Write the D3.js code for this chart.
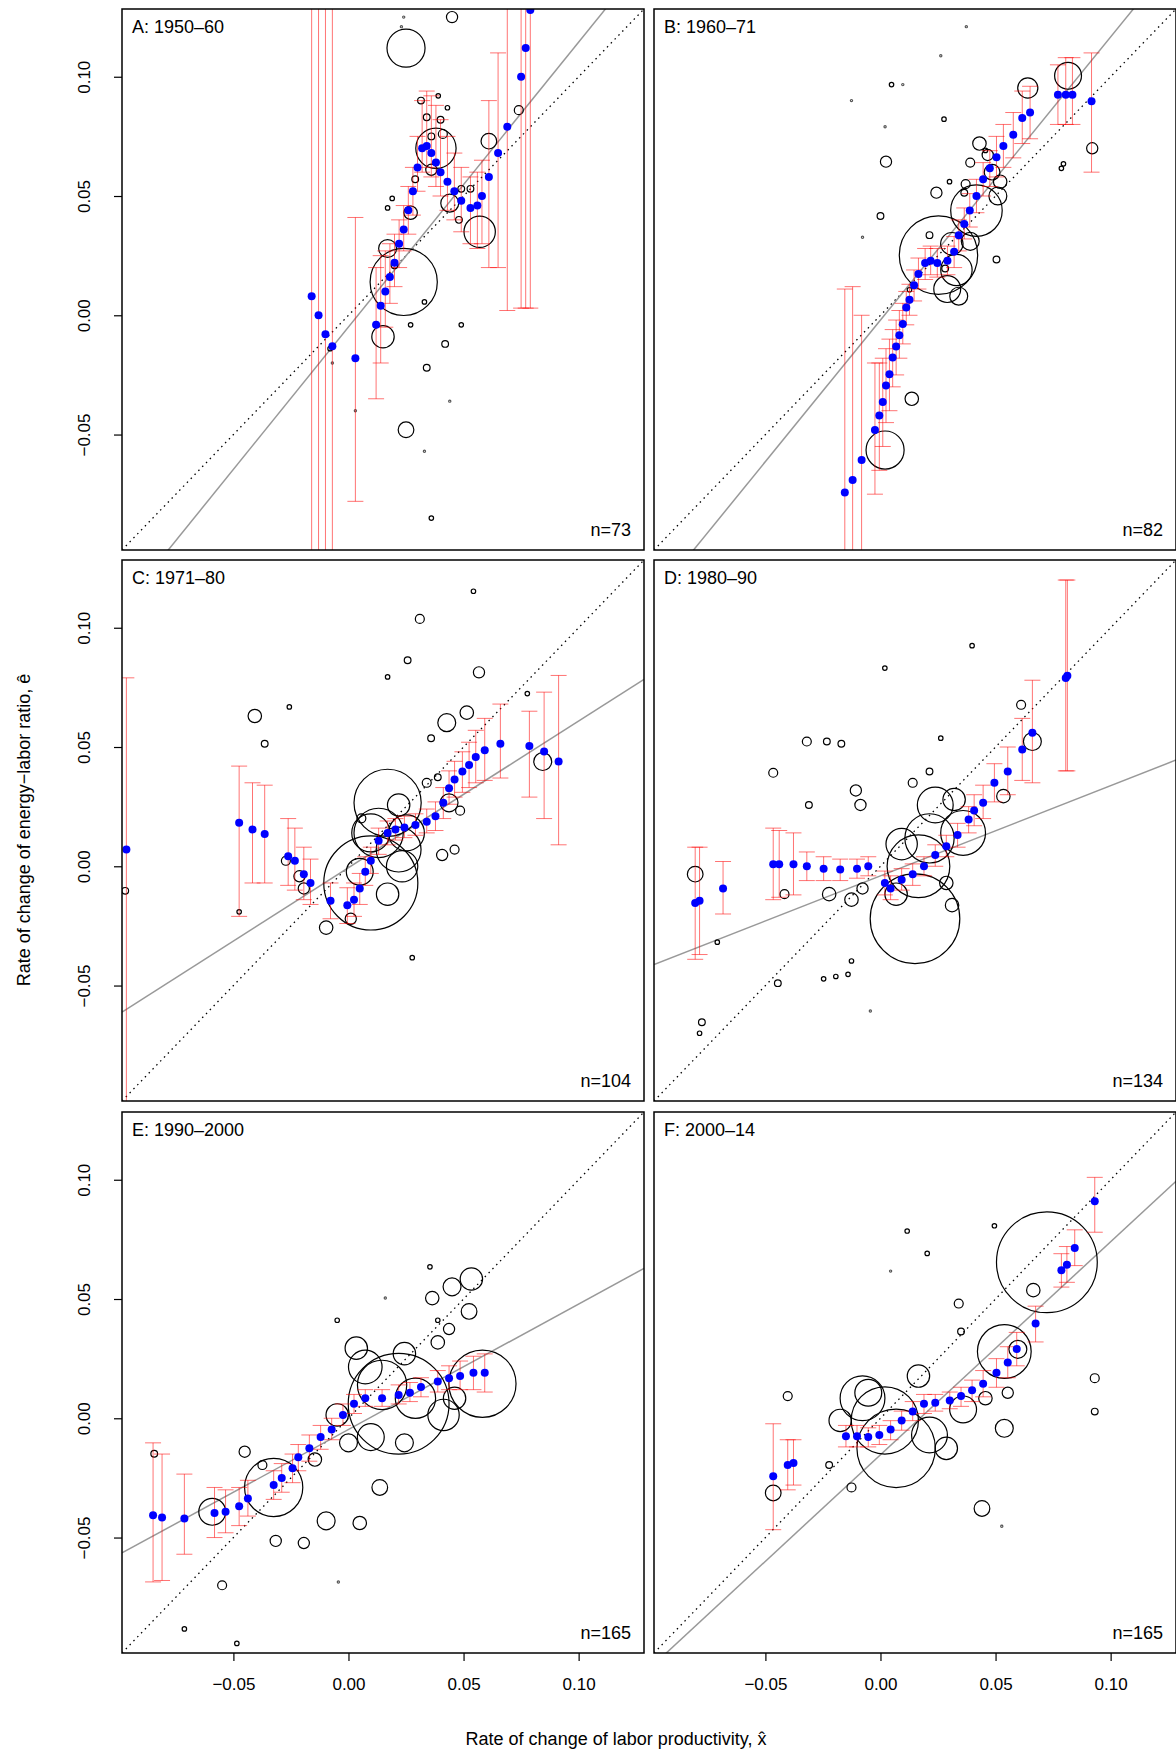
<!DOCTYPE html>
<html><head><meta charset="utf-8">
<script src="https://cdn.jsdelivr.net/npm/d3@7"></script>
<style>body{margin:0;background:#fff}svg{display:block;font-family:"Liberation Sans",Arial,sans-serif}</style>
</head><body><svg id="c" width="1176" height="1758"></svg>
<script>
// Panel meta
const labels = ["A: 1950\u201360","B: 1960\u201371","C: 1971\u201380","D: 1980\u201390","E: 1990\u20132000","F: 2000\u201314"];
const nObs = [73,82,104,134,165,165];
// grey fitted line: [slope, intercept]
const fitLines = [[1.194,-0.0049],[1.187,-0.002],[0.615,-0.0006],[0.378,-0.004],[0.526,-0.0047],[0.893,-0.0153]];
const xTicks = [-0.05,0,0.05,0.10];
const yTicks = [-0.05,0,0.05,0.10];

// blue kernel fit points: [x, y, lo, hi]
const blueA = [[-0.016,0.008,-0.2,0.2],[-0.013,0.000,-0.2,0.2],[-0.010,-0.008,-0.2,0.2],[-0.007,-0.013,-0.2,0.2],[0.003,-0.018,-0.078,0.041],[0.012,-0.004,-0.035,0.020],[0.014,0.004,-0.02,0.025],[0.016,0.010,-0.005,0.027],[0.018,0.016,0.005,0.030],[0.020,0.022,0.012,0.034],[0.022,0.030,0.02,0.04],[0.024,0.036,0.027,0.046],[0.026,0.044,0.034,0.054],[0.028,0.052,0.042,0.062],[0.030,0.062,0.052,0.075],[0.032,0.070,0.060,0.090],[0.034,0.071,0.062,0.094],[0.036,0.068,0.058,0.092],[0.038,0.064,0.054,0.088],[0.040,0.060,0.050,0.082],[0.043,0.056,0.044,0.075],[0.046,0.052,0.040,0.068],[0.049,0.048,0.035,0.062],[0.053,0.045,0.030,0.058],[0.056,0.046,0.028,0.060],[0.058,0.050,0.03,0.065],[0.061,0.058,0.02,0.09],[0.065,0.068,0.02,0.11],[0.069,0.079,0.002,0.2],[0.075,0.100,0.003,0.2],[0.077,0.112,0.003,0.2],[0.079,0.128,0.003,0.2]];
const blueB = [[-0.0155,-0.0743,-0.15,0.011],[-0.0121,-0.0691,-0.15,0.012],[-0.0082,-0.0607,-0.15,0.0],[-0.0024,-0.0481,-0.075,-0.02],[-0.0005,-0.042,-0.065,-0.02],[0.001,-0.0364,-0.055,-0.018],[0.0024,-0.0294,-0.045,-0.014],[0.0039,-0.0247,-0.04,-0.01],[0.0053,-0.0177,-0.03,-0.006],[0.0068,-0.0131,-0.025,-0.002],[0.0082,-0.0084,-0.018,0.002],[0.0097,-0.0037,-0.012,0.005],[0.0112,0.0033,-0.004,0.01],[0.0126,0.0065,0,0.013],[0.0146,0.0126,0.006,0.019],[0.0165,0.0173,0.011,0.024],[0.0194,0.0219,0.015,0.028],[0.0218,0.0229,0.017,0.029],[0.0247,0.0219,0.016,0.028],[0.0291,0.0229,0.017,0.029],[0.032,0.0266,0.02,0.033],[0.034,0.0336,0.027,0.04],[0.0364,0.0383,0.032,0.045],[0.0388,0.0439,0.037,0.051],[0.0417,0.05,0.043,0.057],[0.0446,0.057,0.05,0.064],[0.0475,0.0616,0.054,0.069],[0.0504,0.0663,0.058,0.075],[0.0534,0.071,0.062,0.08],[0.0577,0.0757,0.066,0.085],[0.0616,0.0827,0.072,0.094],[0.065,0.085,0.074,0.096],[0.0771,0.0925,0.08,0.105],[0.0805,0.0925,0.08,0.108],[0.0834,0.0925,0.08,0.108],[0.0917,0.0897,0.06,0.11]];
const blueC = [[-0.0965,0.007,-0.2,0.079],[-0.0475,0.0182,-0.021,0.042],[-0.0417,0.0154,-0.007,0.035],[-0.0364,0.0135,-0.007,0.034],[-0.0262,0.0042,-0.008,0.02],[-0.0233,0.0023,-0.01,0.016],[-0.0194,-0.0033,-0.014,0.008],[-0.0165,-0.007,-0.016,0.003],[-0.0078,-0.0145,-0.022,-0.007],[-0.0005,-0.0163,-0.024,-0.009],[0.0024,-0.014,-0.021,-0.007],[0.0049,-0.0093,-0.016,-0.003],[0.0073,-0.0023,-0.008,0.004],[0.0097,0.0023,-0.003,0.008],[0.0131,0.0107,0.005,0.016],[0.017,0.014,0.009,0.019],[0.0204,0.0154,0.011,0.02],[0.0243,0.0163,0.012,0.021],[0.0291,0.0173,0.013,0.022],[0.034,0.0187,0.014,0.024],[0.0378,0.021,0.015,0.027],[0.0412,0.0266,0.02,0.033],[0.0437,0.0327,0.026,0.04],[0.0461,0.0364,0.029,0.044],[0.0495,0.0397,0.031,0.048],[0.0524,0.0425,0.033,0.052],[0.0553,0.0458,0.035,0.057],[0.0592,0.0486,0.036,0.062],[0.066,0.0514,0.037,0.068],[0.0786,0.0504,0.029,0.065],[0.085,0.0481,0.02,0.073],[0.0913,0.0439,0.009,0.08]];
const blueD = [[-0.0805,-0.0154,-0.039,0.008],[-0.0786,-0.0145,-0.037,0.008],[-0.0684,-0.0093,-0.02,0.002],[-0.0466,0.0009,-0.014,0.016],[-0.044,0.0009,-0.013,0.015],[-0.0378,0.0009,-0.012,0.014],[-0.032,0,-0.006,0.006],[-0.0247,-0.001,-0.006,0.004],[-0.0175,-0.0014,-0.006,0.003],[-0.0102,-0.001,-0.005,0.003],[-0.0053,0,-0.004,0.004],[0.0019,-0.007,-0.012,-0.002],[0.0044,-0.0093,-0.014,-0.004],[0.0092,-0.0056,-0.01,-0.001],[0.014,-0.0033,-0.008,0.001],[0.0189,0,-0.004,0.004],[0.0238,0.0047,0,0.009],[0.0286,0.0084,0.004,0.013],[0.0335,0.0131,0.008,0.018],[0.0383,0.0196,0.014,0.025],[0.0407,0.0234,0.017,0.03],[0.0446,0.0266,0.02,0.034],[0.0495,0.035,0.027,0.043],[0.0553,0.0397,0.03,0.05],[0.0616,0.049,0.036,0.062],[0.066,0.056,0.035,0.078],[0.0805,0.0789,0.04,0.12],[0.0812,0.0799,0.04,0.12]];
const blueE = [[-0.0849,-0.0406,-0.0686,-0.0103],[-0.081,-0.0416,-0.068,-0.015],[-0.0713,-0.042,-0.057,-0.0234],[-0.0582,-0.0397,-0.05,-0.029],[-0.0534,-0.0392,-0.048,-0.03],[-0.0475,-0.0369,-0.045,-0.029],[-0.0437,-0.0336,-0.041,-0.026],[-0.0325,-0.028,-0.034,-0.022],[-0.029,-0.025,-0.031,-0.019],[-0.0243,-0.021,-0.027,-0.015],[-0.0218,-0.0163,-0.022,-0.011],[-0.017,-0.0126,-0.018,-0.007],[-0.0121,-0.0079,-0.013,-0.003],[-0.0073,-0.0047,-0.009,0],[-0.0024,0.0014,-0.003,0.006],[0.0024,0.0061,0.002,0.01],[0.0073,0.0084,0.005,0.012],[0.0146,0.0084,0.005,0.012],[0.0218,0.0098,0.006,0.014],[0.0267,0.0107,0.007,0.015],[0.0315,0.0131,0.009,0.017],[0.0388,0.0154,0.011,0.02],[0.0437,0.0168,0.012,0.022],[0.0485,0.0177,0.012,0.024],[0.0543,0.0191,0.012,0.026],[0.0592,0.0191,0.011,0.027]];
const blueF = [[-0.0466,-0.0243,-0.0467,-0.0023],[-0.0403,-0.0196,-0.03,-0.009],[-0.0378,-0.0187,-0.028,-0.009],[-0.015,-0.0075,-0.012,-0.003],[-0.0102,-0.0075,-0.012,-0.003],[-0.0053,-0.0079,-0.012,-0.004],[-0.0005,-0.007,-0.011,-0.003],[0.0044,-0.0047,-0.009,-0.001],[0.0092,-0.0009,-0.005,0.003],[0.014,0.0028,-0.001,0.007],[0.0189,0.0061,0.002,0.01],[0.0238,0.0065,0.003,0.01],[0.0301,0.0075,0.004,0.011],[0.035,0.0093,0.005,0.013],[0.0398,0.0117,0.007,0.016],[0.0446,0.0145,0.009,0.02],[0.0504,0.0191,0.013,0.025],[0.0553,0.0234,0.017,0.03],[0.0592,0.029,0.022,0.036],[0.0674,0.0397,0.032,0.047],[0.0786,0.0621,0.055,0.069],[0.081,0.0644,0.057,0.072],[0.0844,0.0714,0.064,0.079],[0.0931,0.091,0.078,0.101]];

// observations: [x, y, weight]
const circA = [[0.025,0.112,17],[0.038,0.070,18],[0.057,0.035,14],[0.024,0.014,30],[0.015,-0.009,10],[0.025,-0.048,7],[0.045,0.125,5],[0.061,0.073,7],[0.044,0.047,8],[0.017,0.028,8],[0.027,0.043,6],[0.036,0.061,5],[0.041,0.076,4],[0.034,0.083,3],[0.0315,0.090,3],[0.040,0.082,3],[0.033,0.0056,2],[0.020,0.021,3],[0.034,-0.022,3],[0.042,-0.012,3],[0.049,-0.004,2],[0.074,0.086,4],[-0.008,-0.014,2],[-0.007,-0.020,1],[0.003,-0.040,1],[0.044,-0.036,1],[0.033,-0.057,1],[0.036,-0.085,2],[0.024,0.125,1],[0.023,0.121,1],[0.027,-0.004,2],[0.048,0.040,3],[0.049,0.053,3],[0.036,0.075,3],[0.039,0.092,2],[0.017,0.045,2],[0.029,0.057,3],[0.019,0.049,2],[0.053,0.053,3],[0.043,0.087,2]];
const circB = [[0.002,-0.0565,17],[0.0252,0.0252,35],[0.0417,0.0439,23],[0.0815,0.1004,12],[0.064,0.0953,9],[0.029,0.011,12],[0.033,0.019,14],[0.031,0.030,10],[0.039,0.031,8],[0.0485,0.060,7],[0.052,0.056,6],[0.051,0.050,8],[0.043,0.072,6],[0.039,0.064,4],[0.037,0.055,4],[0.0364,0.0514,3],[0.0466,0.0672,5],[0.0136,-0.035,6],[0.0024,0.0644,5],[0.0243,0.0514,5],[0.092,0.070,5],[0.0786,0.0616,2],[0.0795,0.0635,2],[0,0.0416,3],[-0.0078,0.0327,1],[-0.0126,0.090,1],[0.0048,0.0967,2],[0.0097,0.0967,1],[0.002,0.079,1],[0.0276,0.0822,2],[0.0262,0.1088,1],[0.0373,0.121,1],[0.030,0.056,2],[0.0456,0.0691,2],[0.0504,0.0234,3],[0.0213,0.0336,3],[0.0126,0.0107,2],[0.034,0.008,8],[0.0281,0.0196,3]];
const circC = [[0.0097,-0.007,42],[0.017,0.0266,30],[0.0131,0.014,22],[0.0218,0.007,20],[0.0097,0.014,17],[0.0252,0.014,16],[0.0427,0.0602,8],[0.0514,0.0644,6],[-0.0407,0.063,6],[0.0844,0.0439,8],[0.0567,0.0813,5],[0.031,0.1037,4],[0.0257,0.0864,3],[0.0359,0.0537,3],[0.0437,0.0266,8],[0.0049,-0.0023,12],[0.017,-0.0117,10],[0.0233,0,14],[-0.0097,-0.0257,6],[-0.0194,-0.0093,5],[-0.0272,0.0023,4],[-0.0213,-0.0042,5],[-0.0364,0.0514,3],[-0.0257,0.0668,2],[-0.0475,-0.0191,2],[-0.097,-0.0103,3],[0.0277,-0.0383,2],[0.0543,0.1153,2],[0.017,0.0794,2],[0.0777,0.0724,2],[0.034,0.035,4],[0.0388,0.0373,3],[0.0461,0.007,4],[0.001,-0.022,5],[0.0407,0.0047,5],[0.0485,0.0233,4],[0.0218,0.0257,10],[0.0056,0.0201,4]];
const circD = [[0.015,-0.022,40],[0.0165,0,28],[0.0213,0.0117,22],[0.0359,0.014,20],[0.0238,0.0257,16],[0.0092,0.0093,14],[0.032,0.028,10],[0.066,0.0523,8],[-0.0805,-0.0033,7],[-0.0466,0.0392,4],[-0.032,0.0523,4],[-0.0233,0.0523,3],[-0.017,0.0514,3],[-0.0087,0.0257,5],[-0.0107,0.0318,5],[0.0019,0.0831,2],[0.0398,0.0925,2],[0.0611,0.0677,4],[0.0534,0.0294,6],[-0.0446,-0.049,3],[-0.0776,-0.0654,3],[-0.0786,-0.070,2],[-0.0141,-0.0453,2],[-0.0194,-0.0462,2],[-0.0247,-0.0472,2],[-0.0126,-0.0397,2],[-0.0044,-0.0607,1],[-0.0223,-0.0117,6],[-0.0126,-0.014,6],[-0.0078,-0.0093,5],[0.0068,-0.0117,10],[0.0286,-0.007,6],[0.0311,-0.0163,6],[0.0262,0.0537,2],[0.0213,0.0397,3],[0.014,0.035,4],[-0.0311,0.0257,3],[-0.0417,-0.0117,4],[-0.0709,-0.0318,2]];
const circE = [[0.0582,0.0145,30],[0.0218,0.0061,45],[-0.0325,-0.029,26],[-0.0592,-0.0392,12],[0.0146,0.014,22],[0.0073,0.0215,15],[0.0243,0.0271,10],[0.0534,0.0584,10],[0.045,0.0551,8],[0.0524,0.0448,7],[0.0364,0.0504,6],[0.0437,0.0374,5],[0.0388,0.0318,6],[0.0034,0.0294,10],[-0.0097,-0.043,8],[0.0049,-0.0439,6],[0.0136,-0.029,7],[-0.0194,-0.0523,5],[-0.0316,-0.0514,5],[-0.0549,-0.07,4],[-0.0451,-0.0140,5],[-0.0374,-0.0196,4],[-0.0844,-0.0149,3],[-0.0713,-0.0883,2],[-0.0485,-0.0944,2],[-0.0044,-0.0686,1],[0.0354,0.0635,2],[0.0388,0.0411,2],[0.016,0.0504,1],[-0.0049,0.0411,2],[0.0291,0.0084,18],[0.0413,0.0014,14],[0.0097,-0.0079,12],[-0.0049,0.0014,10],[0,-0.0103,8],[-0.0146,-0.0173,6],[0.0243,-0.0103,8],[0.0461,0.0084,10]];
const circF = [[0.0723,0.0654,45],[0.0068,-0.0126,35],[0.0019,-0.0009,30],[-0.0078,0.0084,20],[0.0538,0.028,24],[0.0213,-0.007,16],[0.0359,0.0037,12],[-0.0466,-0.0313,7],[0.0441,-0.0378,7],[0.0597,0.0289,8],[0.0538,-0.0042,8],[-0.0053,0.0107,12],[0.0165,0.0177,10],[-0.0175,-0.0009,10],[0.0286,-0.0126,10],[0.0456,0.0084,6],[0.0664,0.0537,6],[0.0931,0.0168,4],[0.0931,0.0028,3],[-0.0403,0.0093,4],[0.0116,0.0785,2],[0.0203,0.0691,2],[0.034,0.0481,4],[0.0495,0.0807,2],[0.0044,0.0617,1],[0.0350,0.0364,3],[0.0553,0.0107,5],[-0.0126,-0.0290,4],[-0.0223,-0.0196,3],[0.0527,-0.0453,1]];

const blues = [blueA,blueB,blueC,blueD,blueE,blueF];
const circs = [circA,circB,circC,circD,circE,circF];

const svg = d3.select("#c");
const W = 522, H = 541;
const lefts = [122,654], tops = [9,560,1112];
const dom = [-0.0984,0.1284];
const x = d3.scaleLinear().domain(dom).range([0,W]);
const y = d3.scaleLinear().domain(dom).range([H,0]);
const rs = d3.scaleLinear().domain([0,1]).range([0,1.12]);
const fmt = d=>d3.format(".2f")(d).replace("-","\u2212");

for (let p=0;p<6;p++){
  const col=p%2,row=Math.floor(p/2);
  const g = svg.append("g").attr("transform",`translate(${lefts[col]},${tops[row]})`);
  const cid="clip"+p;
  g.append("clipPath").attr("id",cid).append("rect").attr("width",W).attr("height",H);
  const pl = g.append("g").attr("clip-path",`url(#${cid})`);
  pl.append("line").attr("x1",x(dom[0])).attr("y1",y(dom[0])).attr("x2",x(dom[1])).attr("y2",y(dom[1]))
    .attr("stroke","#000").attr("stroke-width",1.3).attr("stroke-dasharray","1.5,4");
  const [s,b]=fitLines[p];
  pl.append("line").attr("x1",x(dom[0])).attr("y1",y(s*dom[0]+b)).attr("x2",x(dom[1])).attr("y2",y(s*dom[1]+b))
    .attr("stroke","#999").attr("stroke-width",1.5);
  pl.selectAll("circle.o").data(circs[p]).join("circle").attr("class","o")
    .attr("cx",d=>x(d[0])).attr("cy",d=>y(d[1])).attr("r",d=>rs(d[2]))
    .attr("fill","none").attr("stroke",d=>d[2]<=1?"#555":"#000").attr("stroke-width",1.2);
  const eb = pl.append("g").attr("stroke","rgba(255,0,0,0.55)").attr("stroke-width",1);
  blues[p].forEach(d=>{
    eb.append("line").attr("x1",x(d[0])).attr("x2",x(d[0])).attr("y1",y(d[2])).attr("y2",y(d[3]));
    eb.append("line").attr("x1",x(d[0])-8).attr("x2",x(d[0])+8).attr("y1",y(d[2])).attr("y2",y(d[2]));
    eb.append("line").attr("x1",x(d[0])-8).attr("x2",x(d[0])+8).attr("y1",y(d[3])).attr("y2",y(d[3]));
  });
  pl.selectAll("circle.b").data(blues[p]).join("circle").attr("class","b")
    .attr("cx",d=>x(d[0])).attr("cy",d=>y(d[1])).attr("r",4).attr("fill","#0000ff");
  g.append("rect").attr("width",W).attr("height",H).attr("fill","none").attr("stroke","#000").attr("stroke-width",1.5);
  g.append("text").attr("x",10).attr("y",24).attr("font-size",18).text(labels[p]);
  g.append("text").attr("x",W-13).attr("y",H-14).attr("text-anchor","end").attr("font-size",18).text("n="+nObs[p]);
  if(col===0){
    const ya = g.append("g").call(d3.axisLeft(y).tickValues(yTicks).tickSize(8).tickFormat(fmt));
    ya.select(".domain").remove();
    ya.selectAll("line").attr("stroke-width",1.2);
    ya.selectAll("text").attr("font-size",17).attr("font-family","Liberation Sans, Arial, sans-serif")
      .attr("x",0).attr("y",0).attr("dy",0).attr("text-anchor","middle")
      .attr("transform","translate(-32,0) rotate(-90)");
  }
  if(row===2){
    const xa = g.append("g").attr("transform",`translate(0,${H})`).call(d3.axisBottom(x).tickValues(xTicks).tickSize(8).tickFormat(fmt));
    xa.select(".domain").remove();
    xa.selectAll("line").attr("stroke-width",1.2);
    xa.selectAll("text").attr("font-size",17).attr("font-family","Liberation Sans, Arial, sans-serif").attr("dy","1.55em");
  }
}
svg.append("text").attr("transform","translate(30,830) rotate(-90)").attr("text-anchor","middle").attr("font-size",18)
  .text("Rate of change of energy\u2212labor ratio, e\u0302");
svg.append("text").attr("x",616).attr("y",1745).attr("text-anchor","middle").attr("font-size",18)
  .text("Rate of change of labor productivity, x\u0302");
</script></body></html>
